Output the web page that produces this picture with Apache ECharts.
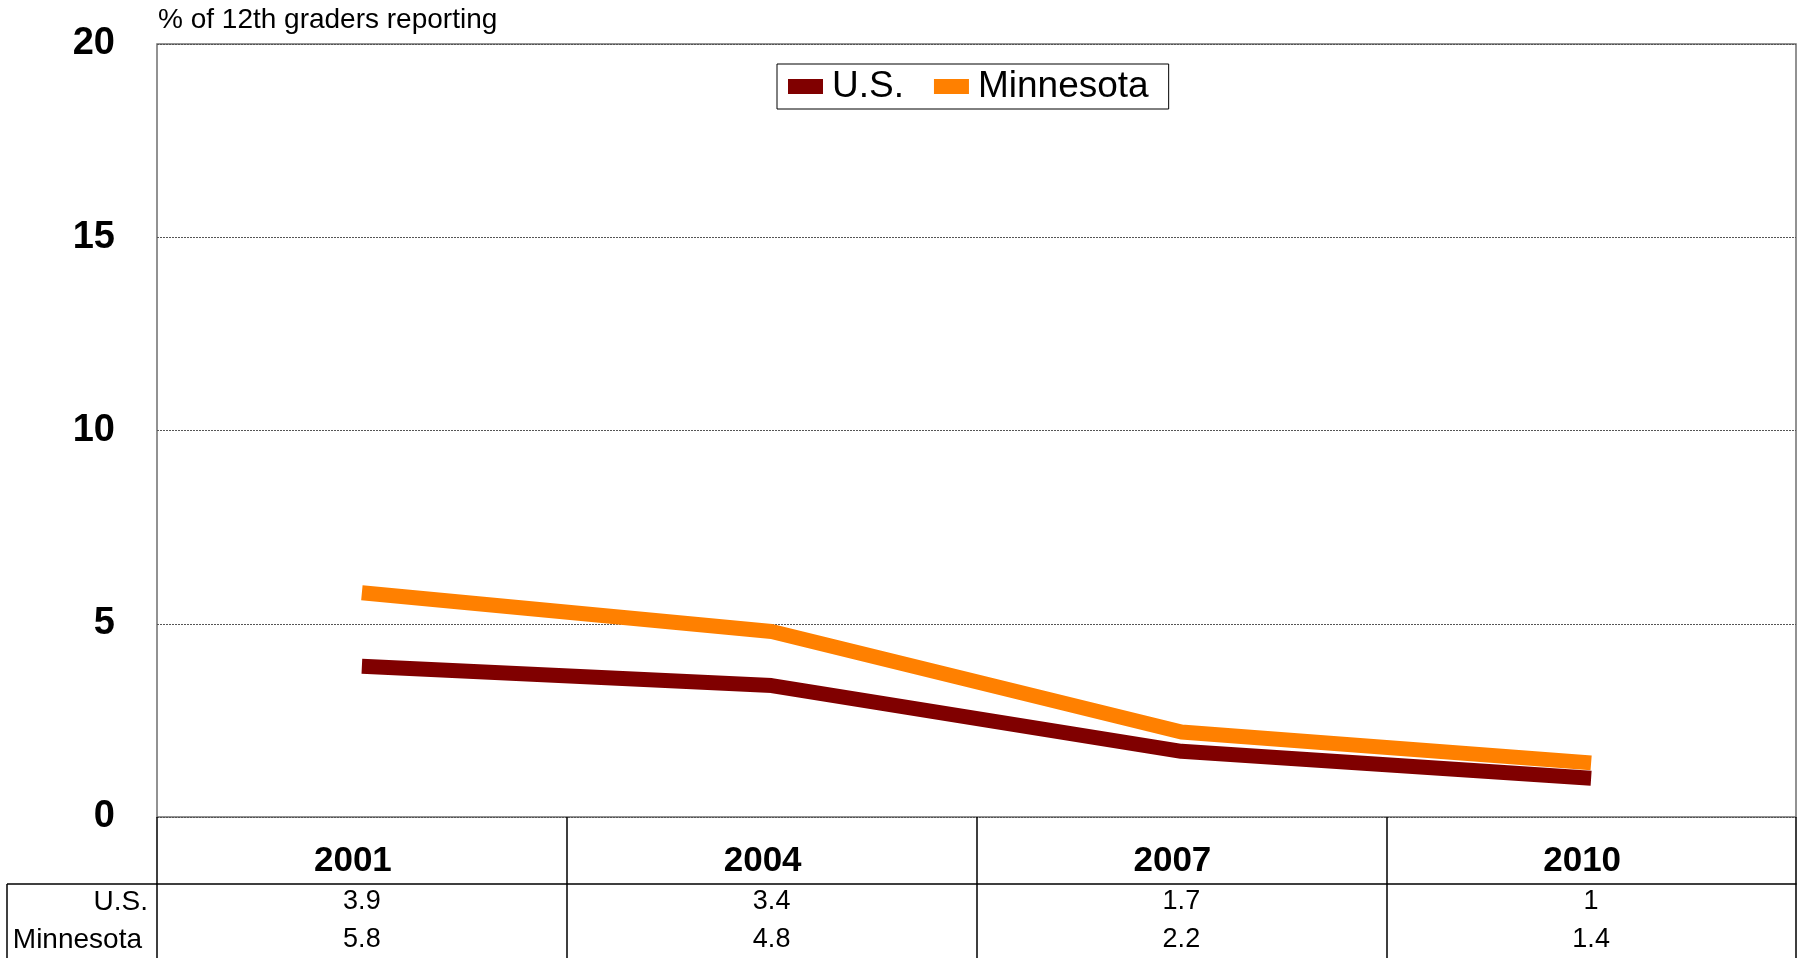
<!DOCTYPE html>
<html>
<head>
<meta charset="utf-8">
<script src="https://cdn.jsdelivr.net/npm/echarts@6/dist/echarts.min.js"></script>
<style>
html,body{margin:0;padding:0;background:#fff;}
#chart{width:1803px;height:958px;}
</style>
</head>
<body>
<div id="chart"></div>
<script>
// ---- data ----
var categories = ['2001', '2004', '2007', '2010'];
var usValues = [3.9, 3.4, 1.7, 1];
var mnValues = [5.8, 4.8, 2.2, 1.4];
var seriesNames = ['U.S.', 'Minnesota'];
var yTicks = { min: 0, max: 20, interval: 5 };
var axisTitle = '% of 12th graders reporting';

// ---- layout ----
var W = 1803, H = 958;
var gridLeft = 157, gridRight = 7, gridTop = 44, gridBottom = 141;
var catRowH = 67;        // category row height below plot
var tableLeft = 7;
var FONT = 'Liberation Sans, Arial, sans-serif';
var plotBottom = H - gridBottom;
var tableTop = plotBottom + catRowH;

var chart = echarts.init(document.getElementById('chart'), null, { renderer: 'canvas' });

var option = {
  animation: false,
  backgroundColor: '#ffffff',
  textStyle: { fontFamily: FONT },
  title: {
    text: axisTitle,
    left: 153,
    top: 1,
    textStyle: { fontFamily: FONT, fontSize: 28, fontWeight: 'normal', color: '#000' }
  },
  legend: {
    data: seriesNames,
    left: 777,
    top: 64,
    orient: 'horizontal',
    icon: 'rect',
    itemWidth: 35,
    itemHeight: 15,
    itemGap: 30,
    padding: [4, 20, 4, 11],
    borderColor: '#000',
    borderWidth: 1,
    backgroundColor: '#fff',
    selectedMode: false,
    textStyle: { fontFamily: FONT, fontSize: 37, color: '#000', padding: [0, 0, 0, 4] }
  },
  grid: {
    left: gridLeft, right: gridRight, top: gridTop, bottom: gridBottom,
    show: true, borderColor: '#6f6f6f', borderWidth: 1.5, backgroundColor: '#fff'
  },
  xAxis: [
    {
      type: 'category',
      data: categories,
      boundaryGap: true,
      position: 'bottom',
      axisLine: { show: false },
      axisTick: { show: true, interval: 0, length: catRowH, lineStyle: { color: '#000', width: 1.5 } },
      axisLabel: { interval: 0, margin: 27, padding: [0, 18, 0, 0], fontFamily: FONT, fontSize: 35, fontWeight: 'bold', color: '#000' },
      splitLine: { show: false }
    },
    {
      type: 'category',
      data: usValues.map(String),
      boundaryGap: true,
      position: 'bottom',
      offset: catRowH,
      axisLine: { show: true, lineStyle: { color: '#000', width: 1.5 } },
      axisTick: { show: true, interval: 0, length: H - tableTop, lineStyle: { color: '#000', width: 1.5 } },
      axisLabel: { interval: 0, margin: 4, fontFamily: FONT, fontSize: 27, color: '#000' },
      splitLine: { show: false }
    },
    {
      type: 'category',
      data: mnValues.map(String),
      boundaryGap: true,
      position: 'bottom',
      offset: catRowH,
      axisLine: { show: false },
      axisTick: { show: false },
      axisLabel: { interval: 0, margin: 42, fontFamily: FONT, fontSize: 27, color: '#000' },
      splitLine: { show: false }
    }
  ],
  yAxis: {
    type: 'value',
    min: yTicks.min,
    max: yTicks.max,
    interval: yTicks.interval,
    axisLine: { show: false },
    axisTick: { show: false },
    axisLabel: { margin: 42, fontFamily: FONT, fontSize: 38, fontWeight: 'bold', color: '#000' },
    splitLine: { show: true, lineStyle: { color: '#555', width: 1, type: [2, 1] } }
  },
  series: [
    {
      name: seriesNames[0],
      type: 'line',
      data: usValues,
      xAxisIndex: 0,
      symbol: 'none',
      color: '#800000',
      lineStyle: { width: 15, color: '#800000', cap: 'butt', join: 'bevel' },
      emphasis: { disabled: true },
      z: 3
    },
    {
      name: seriesNames[1],
      type: 'line',
      data: mnValues,
      xAxisIndex: 0,
      symbol: 'none',
      color: '#FF8000',
      lineStyle: { width: 15, color: '#FF8000', cap: 'butt', join: 'bevel' },
      emphasis: { disabled: true },
      z: 2
    }
  ],
  graphic: [
    { type: 'line', shape: { x1: tableLeft, y1: tableTop, x2: gridLeft, y2: tableTop }, style: { stroke: '#000', lineWidth: 1.5 } },
    { type: 'line', shape: { x1: tableLeft, y1: tableTop, x2: tableLeft, y2: H }, style: { stroke: '#000', lineWidth: 1.5 } },
    { type: 'text', style: { text: seriesNames[0], x: gridLeft - 9, y: tableTop + 18, align: 'right', verticalAlign: 'middle', font: '28px ' + FONT, fill: '#000' } },
    { type: 'text', style: { text: seriesNames[1], x: gridLeft - 15, y: tableTop + 56, align: 'right', verticalAlign: 'middle', font: '28px ' + FONT, fill: '#000' } }
  ]
};

chart.setOption(option);
</script>
</body>
</html>
